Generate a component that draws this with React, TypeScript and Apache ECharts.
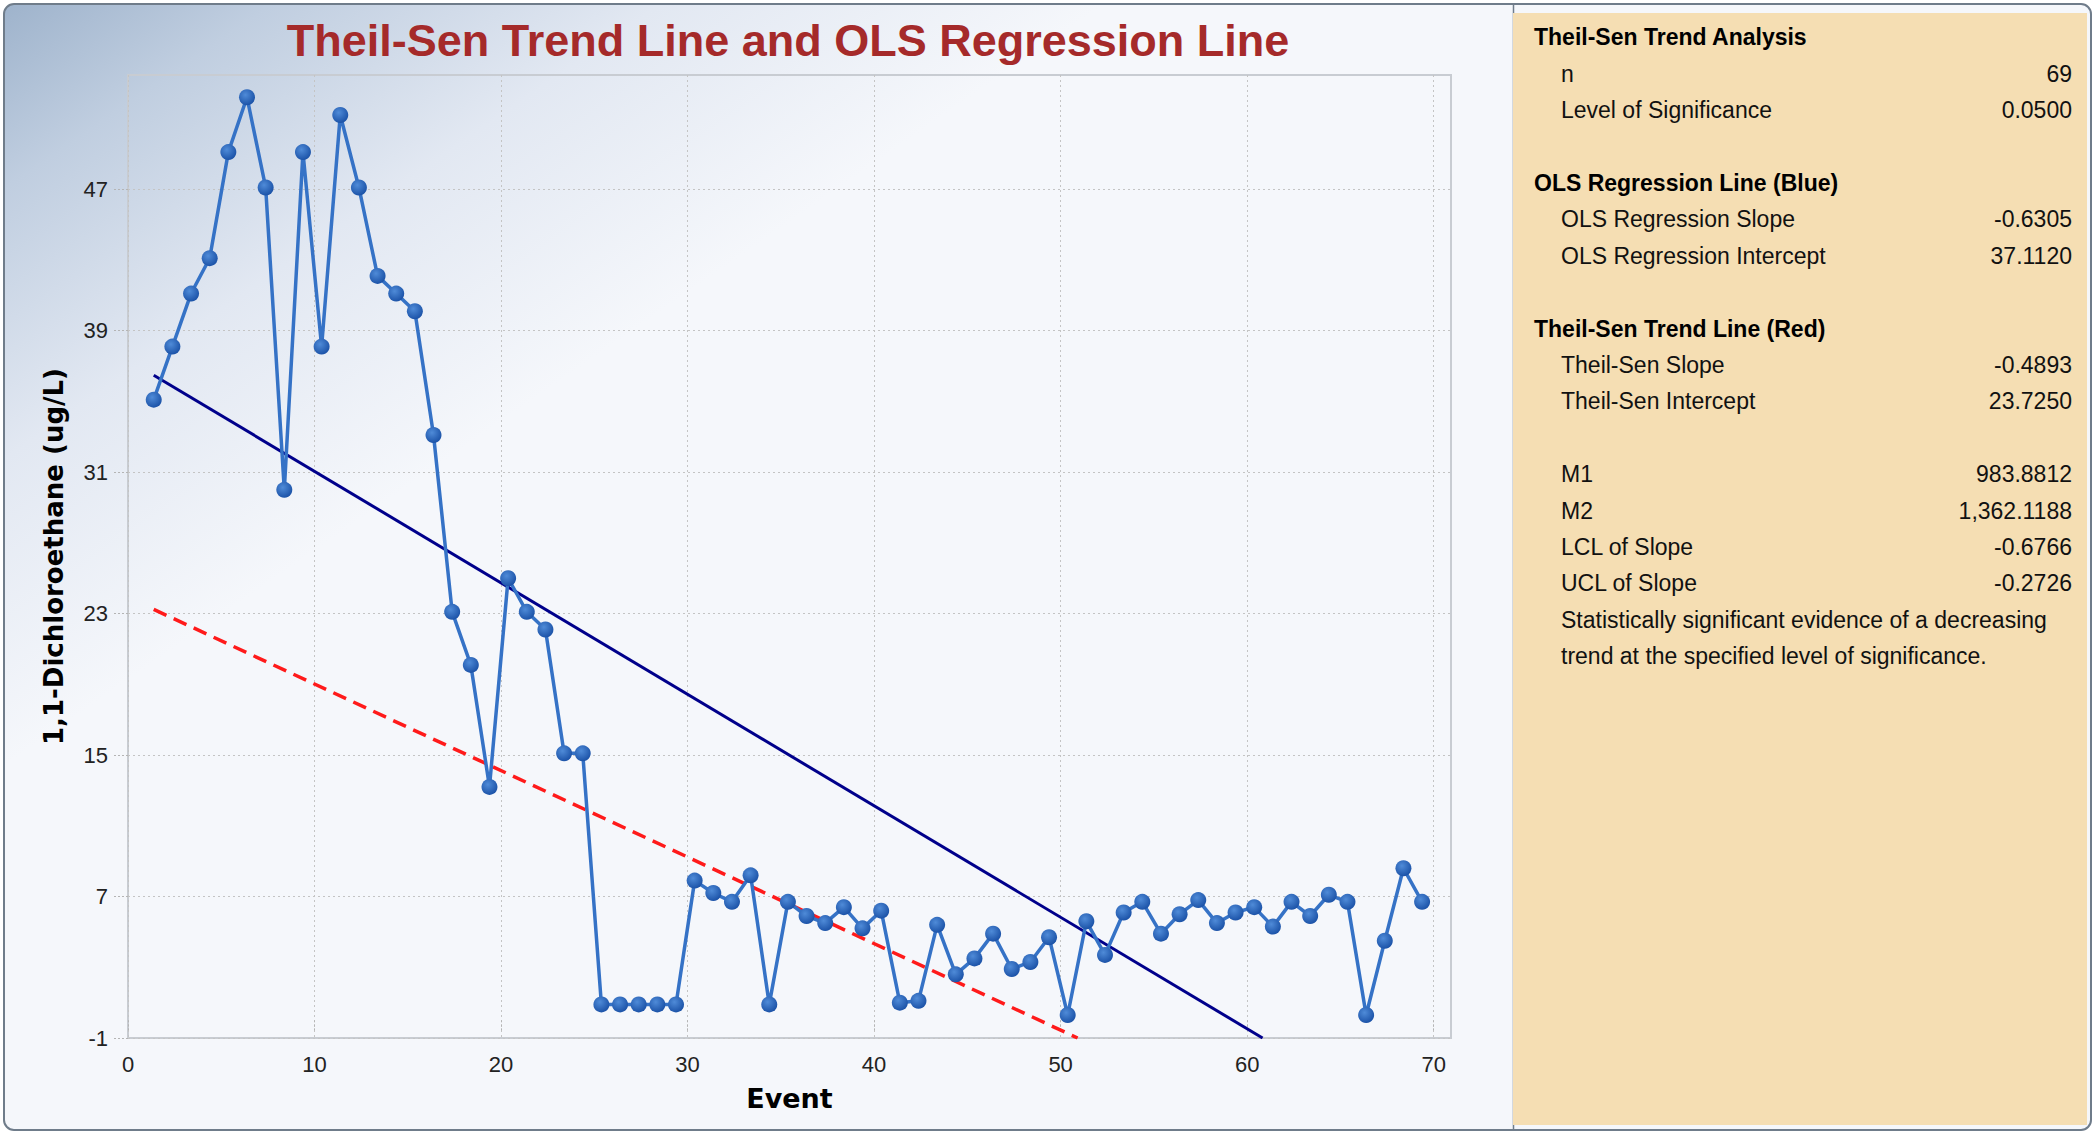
import React, { useEffect, useRef } from "react";
import * as echarts from "echarts";

// ---- data ----
const events = [
  1, 2, 3, 4, 5, 6, 7, 8, 9, 10, 11, 12, 13, 14, 15, 16, 17, 18, 19, 20, 21, 22, 23,
  24, 25, 26, 27, 28, 29, 30, 31, 32, 33, 34, 35, 36, 37, 38, 39, 40, 41, 42, 43, 44,
  45, 46, 47, 48, 49, 50, 51, 52, 53, 54, 55, 56, 57, 58, 59, 60, 61, 62, 63, 64, 65,
  66, 67, 68, 69,
];
const concentrations = [
  35.1, 38.1, 41.1, 43.1, 49.1, 52.2, 47.1, 30.0, 49.1, 38.1,
  51.2, 47.1, 42.1, 41.1, 40.1, 33.1, 23.1, 20.1, 13.2, 25.0,
  23.1, 22.1, 15.1, 15.1, 0.9, 0.9, 0.9, 0.9, 0.9, 7.9,
  7.2, 6.7, 8.2, 0.9, 6.7, 5.9, 5.5, 6.4, 5.2, 6.2,
  1.0, 1.1, 5.4, 2.6, 3.5, 4.9, 2.9, 3.3, 4.7, 0.3,
  5.6, 3.7, 6.1, 6.7, 4.9, 6.0, 6.8, 5.5, 6.1, 6.4,
  5.3, 6.7, 5.9, 7.1, 6.7, 0.3, 4.5, 8.6, 6.7,
];
const xTickValues = [0, 10, 20, 30, 40, 50, 60, 70];
const yTickValues = [-1, 7, 15, 23, 31, 39, 47];

const olsSlope = -0.6305;
const olsIntercept = 37.112;
const theilSenSlope = -0.4893;
const theilSenIntercept = 23.725;

const panelHeaders = [
  { row: 0, text: "Theil-Sen Trend Analysis" },
  { row: 4, text: "OLS Regression Line (Blue)" },
  { row: 8, text: "Theil-Sen Trend Line (Red)" },
];
const panelLabels = [
  { row: 1, label: "n", value: "69" },
  { row: 2, label: "Level of Significance", value: "0.0500" },
  { row: 5, label: "OLS Regression Slope", value: "-0.6305" },
  { row: 6, label: "OLS Regression Intercept", value: "37.1120" },
  { row: 9, label: "Theil-Sen Slope", value: "-0.4893" },
  { row: 10, label: "Theil-Sen Intercept", value: "23.7250" },
  { row: 12, label: "M1", value: "983.8812" },
  { row: 13, label: "M2", value: "1,362.1188" },
  { row: 14, label: "LCL of Slope", value: "-0.6766" },
  { row: 15, label: "UCL of Slope", value: "-0.2726" },
  { row: 16, label: "Statistically significant evidence of a decreasing", value: "" },
  { row: 17, label: "trend at the specified level of significance.", value: "" },
];

// plotted points sit slightly right of their event number in the reference
const xShift = 0.38;

export default function App() {
  const ref = useRef<HTMLDivElement>(null);

  useEffect(() => {
    document.body.style.margin = "0";
    const chart = echarts.init(ref.current as HTMLDivElement, null, { renderer: "svg" });

    const firstEvent = events[0];
    const olsEnd = (-1 - olsIntercept) / olsSlope;
    const tsEnd = (-1 - theilSenIntercept) / theilSenSlope;

    const pointData = concentrations.map((v, i) => [events[i] + xShift, v]);
    const olsData = [
      [firstEvent + xShift, olsIntercept + olsSlope * firstEvent],
      [olsEnd + xShift, -1],
    ];
    const tsData = [
      [firstEvent + xShift, theilSenIntercept + theilSenSlope * firstEvent],
      [tsEnd + xShift, -1],
    ];

    const rowY = (r: number) => 37.4 + r * 36.4;
    const panelFont = '"Liberation Sans", Arial, sans-serif';

    const graphics: any[] = [
      {
        type: "rect",
        z: -20,
        silent: true,
        shape: { x: 4, y: 4, width: 2087, height: 1126, r: 10 },
        style: { fill: "#f5f7fb" },
      },
      {
        type: "rect",
        z: -19,
        silent: true,
        shape: { x: 4, y: 4, width: 1510, height: 1126, r: [10, 0, 0, 10] },
        style: {
          fill: new echarts.graphic.LinearGradient(
            0,
            0,
            360,
            520,
            [
              { offset: 0, color: "#9db2cb" },
              { offset: 0.25, color: "#c0cee0" },
              { offset: 0.6, color: "#e2e8f2" },
              { offset: 1, color: "#f5f7fb" },
            ],
            true
          ),
        },
      },
      {
        type: "line",
        z: -18,
        silent: true,
        shape: { x1: 1513.5, y1: 4, x2: 1513.5, y2: 1130 },
        style: { stroke: "#6f7c8a", lineWidth: 1.5 },
      },
      {
        type: "rect",
        z: -17,
        silent: true,
        shape: { x: 1513, y: 13, width: 574, height: 1112 },
        style: { fill: "#f5deb3" },
      },
      {
        type: "rect",
        z: 50,
        silent: true,
        shape: { x: 4, y: 4, width: 2087, height: 1126, r: 10 },
        style: { fill: "none", stroke: "#6f7c8a", lineWidth: 2 },
      },
    ];

    panelHeaders.forEach((h) => {
      graphics.push({
        type: "text",
        z: 20,
        x: 1534,
        y: rowY(h.row),
        style: {
          text: h.text,
          fill: "#000",
          font: `bold 23px ${panelFont}`,
          textAlign: "left",
          textVerticalAlign: "middle",
        },
      });
    });
    panelLabels.forEach((p) => {
      graphics.push({
        type: "text",
        z: 20,
        x: 1561,
        y: rowY(p.row),
        style: {
          text: p.label,
          fill: "#111",
          font: `23px ${panelFont}`,
          textAlign: "left",
          textVerticalAlign: "middle",
        },
      });
      if (p.value) {
        graphics.push({
          type: "text",
          z: 20,
          x: 2072,
          y: rowY(p.row),
          style: {
            text: p.value,
            fill: "#111",
            font: `23px ${panelFont}`,
            textAlign: "right",
            textVerticalAlign: "middle",
          },
        });
      }
    });

    const gridLine = { color: "#c4c4c4", width: 1, type: [2, 3] as any };
    const tickLine = { color: "#b4b4b4", width: 1, type: [2, 2] as any };

    const option: any = {
      animation: false,
      title: {
        text: "Theil-Sen Trend Line and OLS Regression Line",
        left: 783,
        textAlign: "center",
        top: 13,
        textStyle: {
          color: "#a52a2a",
          fontSize: 45,
          fontWeight: "bold",
          fontFamily: '"Liberation Sans", Arial, sans-serif',
        },
      },
      graphic: { elements: graphics },
      grid: {
        left: 128,
        top: 75,
        width: 1323,
        height: 963,
        show: true,
        backgroundColor: "transparent",
        borderColor: "#c8ccd2",
        borderWidth: 2,
      },
      xAxis: {
        type: "value",
        min: 0,
        max: 70.93,
        interval: 10,
        name: "Event",
        nameLocation: "middle",
        nameGap: 47,
        nameTextStyle: {
          color: "#000",
          fontSize: 27,
          fontWeight: "bold",
          fontFamily: '"DejaVu Sans", sans-serif',
        },
        axisLine: { show: false },
        axisTick: { show: true, length: 12, lineStyle: tickLine, customValues: xTickValues },
        axisLabel: {
          customValues: xTickValues,
          margin: 15,
          color: "#222",
          fontSize: 22,
          fontFamily: '"Liberation Sans", Arial, sans-serif',
        },
        splitLine: { show: true, lineStyle: gridLine },
      },
      yAxis: {
        type: "value",
        min: -1,
        max: 53.46,
        interval: 8,
        name: "1,1-Dichloroethane (ug/L)",
        nameLocation: "middle",
        nameGap: 61,
        nameTextStyle: {
          color: "#000",
          fontSize: 26,
          fontWeight: "bold",
          fontFamily: '"DejaVu Sans", sans-serif',
        },
        axisLine: { show: false },
        axisTick: { show: true, length: 14, lineStyle: tickLine, customValues: yTickValues },
        axisLabel: {
          customValues: yTickValues,
          margin: 20,
          color: "#222",
          fontSize: 22,
          fontFamily: '"Liberation Sans", Arial, sans-serif',
        },
        splitLine: { show: true, lineStyle: gridLine },
      },
      series: [
        {
          name: "OLS Regression Line",
          type: "line",
          data: olsData,
          symbol: "none",
          z: 3,
          lineStyle: { color: "#00008b", width: 3 },
          silent: true,
        },
        {
          name: "Theil-Sen Trend Line",
          type: "line",
          data: tsData,
          symbol: "none",
          z: 3,
          lineStyle: { color: "#ff1a1a", width: 3.5, type: [14, 8] },
          silent: true,
        },
        {
          name: "1,1-Dichloroethane",
          type: "line",
          data: pointData,
          symbol: "circle",
          symbolSize: 16,
          z: 4,
          lineStyle: { color: "#3572c6", width: 3.5 },
          itemStyle: {
            color: new echarts.graphic.RadialGradient(0.4, 0.35, 0.65, [
              { offset: 0, color: "#4f8bd8" },
              { offset: 1, color: "#1c53a8" },
            ]),
            borderWidth: 0,
          },
        },
      ],
    };

    chart.setOption(option);
    return () => chart.dispose();
  }, []);

  return (
    <div
      ref={ref}
      style={{ position: "absolute", left: 0, top: 0, width: 2096, height: 1132 }}
    />
  );
}
